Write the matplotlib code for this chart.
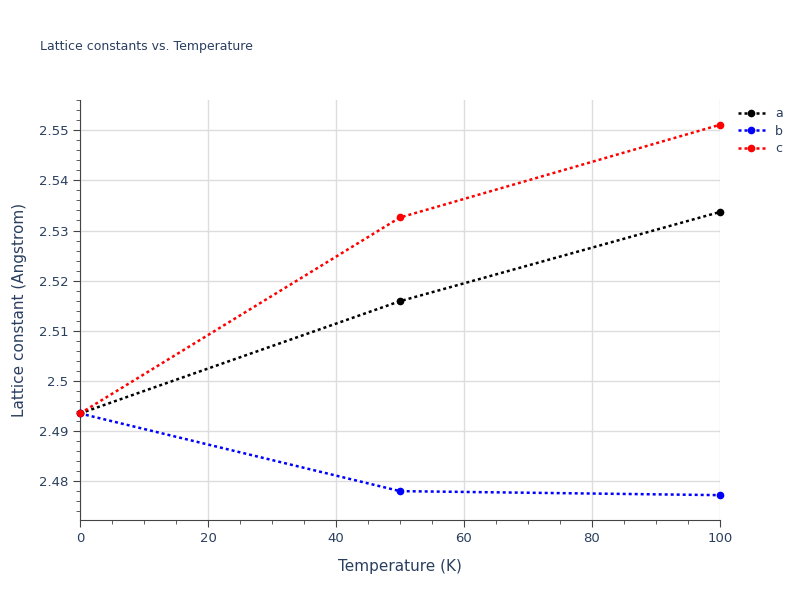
import matplotlib.pyplot as plt
from matplotlib.ticker import MultipleLocator, FuncFormatter

temps = [0, 50, 100]
lat_a = [2.4935, 2.5159, 2.5337]
lat_b = [2.4935, 2.4780, 2.4772]
lat_c = [2.4935, 2.5326, 2.5511]

txt = "#2a3f5f"
fig = plt.figure(figsize=(8, 6), dpi=100)
ax = fig.add_axes([0.1, 0.133, 0.8, 0.7])

for y, col, lab in [(lat_a, "black", "a"), (lat_b, "blue", "b"), (lat_c, "red", "c")]:
    ax.plot(temps, y, ls=(0, (1.2, 1.2)), lw=1.8, color=col, marker="o", ms=4.5, label=lab, clip_on=False, zorder=3)

ax.set_xlim(0, 100)
ax.set_ylim(2.4722, 2.556)
ax.xaxis.set_major_locator(MultipleLocator(20))
ax.xaxis.set_minor_locator(MultipleLocator(5))
ax.yaxis.set_major_locator(MultipleLocator(0.01))
ax.yaxis.set_minor_locator(MultipleLocator(0.002))
ax.yaxis.set_major_formatter(FuncFormatter(lambda v, p: f"{v:.3f}".rstrip("0").rstrip(".")))
ax.grid(True, which="major", color="#dddddd", lw=1)
ax.set_axisbelow(True)
for s in ["top", "right"]:
    ax.spines[s].set_visible(False)
for s in ["left", "bottom"]:
    ax.spines[s].set_color("#444444")
ax.tick_params(which="both", direction="out", color="#444444", labelcolor=txt, labelsize=9.5)
ax.tick_params(which="major", length=5)
ax.tick_params(which="minor", length=3)
ax.set_xlabel("Temperature (K)", color=txt, fontsize=11, labelpad=10)
ax.set_ylabel("Lattice constant (Angstrom)", color=txt, fontsize=11, labelpad=8)
fig.text(0.05, 0.917, "Lattice constants vs. Temperature", color=txt, fontsize=9)
leg = ax.legend(loc="upper left", bbox_to_anchor=(1.01, 1.01), frameon=False, fontsize=9,
                handlelength=2.2, labelspacing=0.35)
for t in leg.get_texts():
    t.set_color(txt)

fig.savefig("out.png", dpi=100)
